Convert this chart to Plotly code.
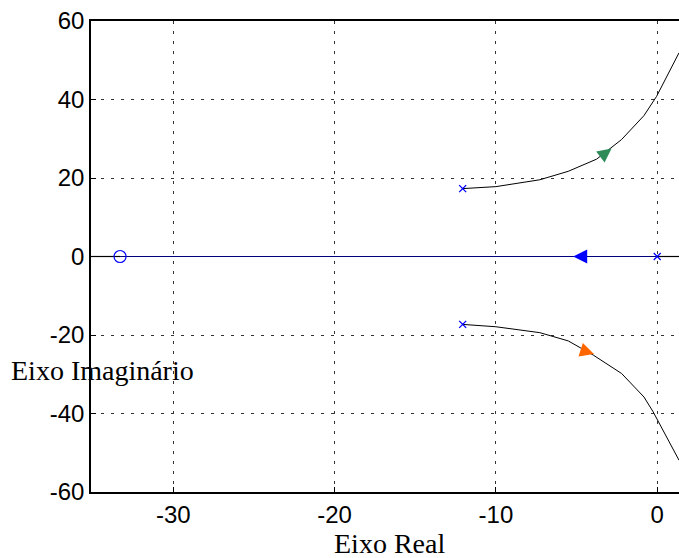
import plotly.graph_objects as go

# ---- data ----
upper_re = [-12.06, -10.0, -7.28, -5.52, -3.76, -2.21, -0.82, -0.04, 1.35]
upper_im = [17.3, 17.8, 19.55, 21.7, 24.8, 29.8, 35.9, 40.8, 51.9]
lower_re = [-12.06, -10.0, -7.28, -5.52, -3.97, -2.21, -0.82, -0.25, 1.35]
lower_im = [-17.3, -17.9, -19.4, -21.5, -25.1, -29.8, -35.8, -39.6, -51.9]
real_branch_re = [-33.3, 0.0]
real_left_re = [-35.1, -33.3]
real_right_re = [0.0, 1.35]
poles_re = [-12.06, -12.06, 0.0]
poles_im = [17.3, -17.3, 0.0]
zeros_re = [-33.3]
zeros_im = [0.0]
arrow_re = [-2.83, -3.92, -5.21]
arrow_im = [27.5, -24.86, 0.0]
arrow_sym = ["arrow-right", "arrow-right", "arrow-left"]
arrow_ang = [-37, 18, 0]
arrow_col = ["#2E8B57", "#FF6600", "#0000FF"]
xticks = [-30, -20, -10, 0]
xticklabels = ["-30", "-20", "-10", "0"]
yticks = [-60, -40, -20, 0, 20, 40, 60]
yticklabels = ["-60", "-40", "-20", "0", "20", "40", "60"]

fig = go.Figure()
fig.add_trace(go.Scatter(x=real_left_re, y=[0, 0], mode="lines",
                         line=dict(color="black", width=1.2)))
fig.add_trace(go.Scatter(x=real_branch_re, y=[0, 0], mode="lines",
                         line=dict(color="#00007F", width=1.2)))
fig.add_trace(go.Scatter(x=real_right_re, y=[0, 0], mode="lines",
                         line=dict(color="black", width=1.2)))
fig.add_trace(go.Scatter(x=upper_re, y=upper_im, mode="lines",
                         line=dict(color="black", width=1)))
fig.add_trace(go.Scatter(x=lower_re, y=lower_im, mode="lines",
                         line=dict(color="black", width=1)))
fig.add_trace(go.Scatter(x=poles_re, y=poles_im, mode="markers",
                         marker=dict(symbol="x-thin-open", size=7, color="#0000FF",
                                     line=dict(color="#0000FF", width=1.3))))
fig.add_trace(go.Scatter(x=zeros_re, y=zeros_im, mode="markers",
                         marker=dict(symbol="circle-open", size=12, color="#0000FF",
                                     line=dict(color="#0000FF", width=1.2))))
fig.add_trace(go.Scatter(x=arrow_re, y=arrow_im, mode="markers",
                         marker=dict(symbol=arrow_sym, angle=arrow_ang, size=14,
                                     color=arrow_col, line=dict(width=0))))

axis_common = dict(
    showgrid=True, gridcolor="#333333", gridwidth=1, griddash="3px,7px",
    zeroline=False, showline=True, linecolor="black", linewidth=1.5,
    ticks="inside", ticklen=5, tickcolor="black", automargin=False,
    ticklabeloverflow="allow",
    tickfont=dict(family="Liberation Sans, Arial", size=24, color="black"),
)
fig.update_xaxes(range=[-35.1, 1.35], tickvals=xticks, ticktext=xticklabels,
                 mirror=True, **axis_common)
fig.update_yaxes(range=[-60, 60], tickvals=yticks, ticktext=yticklabels, **axis_common)

fig.add_annotation(text="Eixo Real", xref="paper", yref="paper",
                   x=0.5085, y=-0.11, xanchor="center", yanchor="middle",
                   showarrow=False,
                   font=dict(family="Liberation Serif, Times New Roman", size=28, color="black"))
fig.add_annotation(text="Eixo Imaginário", xref="paper", yref="paper",
                   x=-0.14, y=0.259, xanchor="left", yanchor="middle",
                   showarrow=False,
                   font=dict(family="Liberation Serif, Times New Roman", size=28, color="black"))

fig.update_layout(width=679, height=558, showlegend=False,
                  plot_bgcolor="white", paper_bgcolor="white",
                  margin=dict(l=91, r=0, t=21, b=66, autoexpand=False))
fig.write_html(
    "out.html",
    config={"displayModeBar": False},
    post_script="document.body.style.margin='0px';"
                "document.documentElement.style.overflow='hidden';"
                "document.body.style.overflow='hidden';",
)
